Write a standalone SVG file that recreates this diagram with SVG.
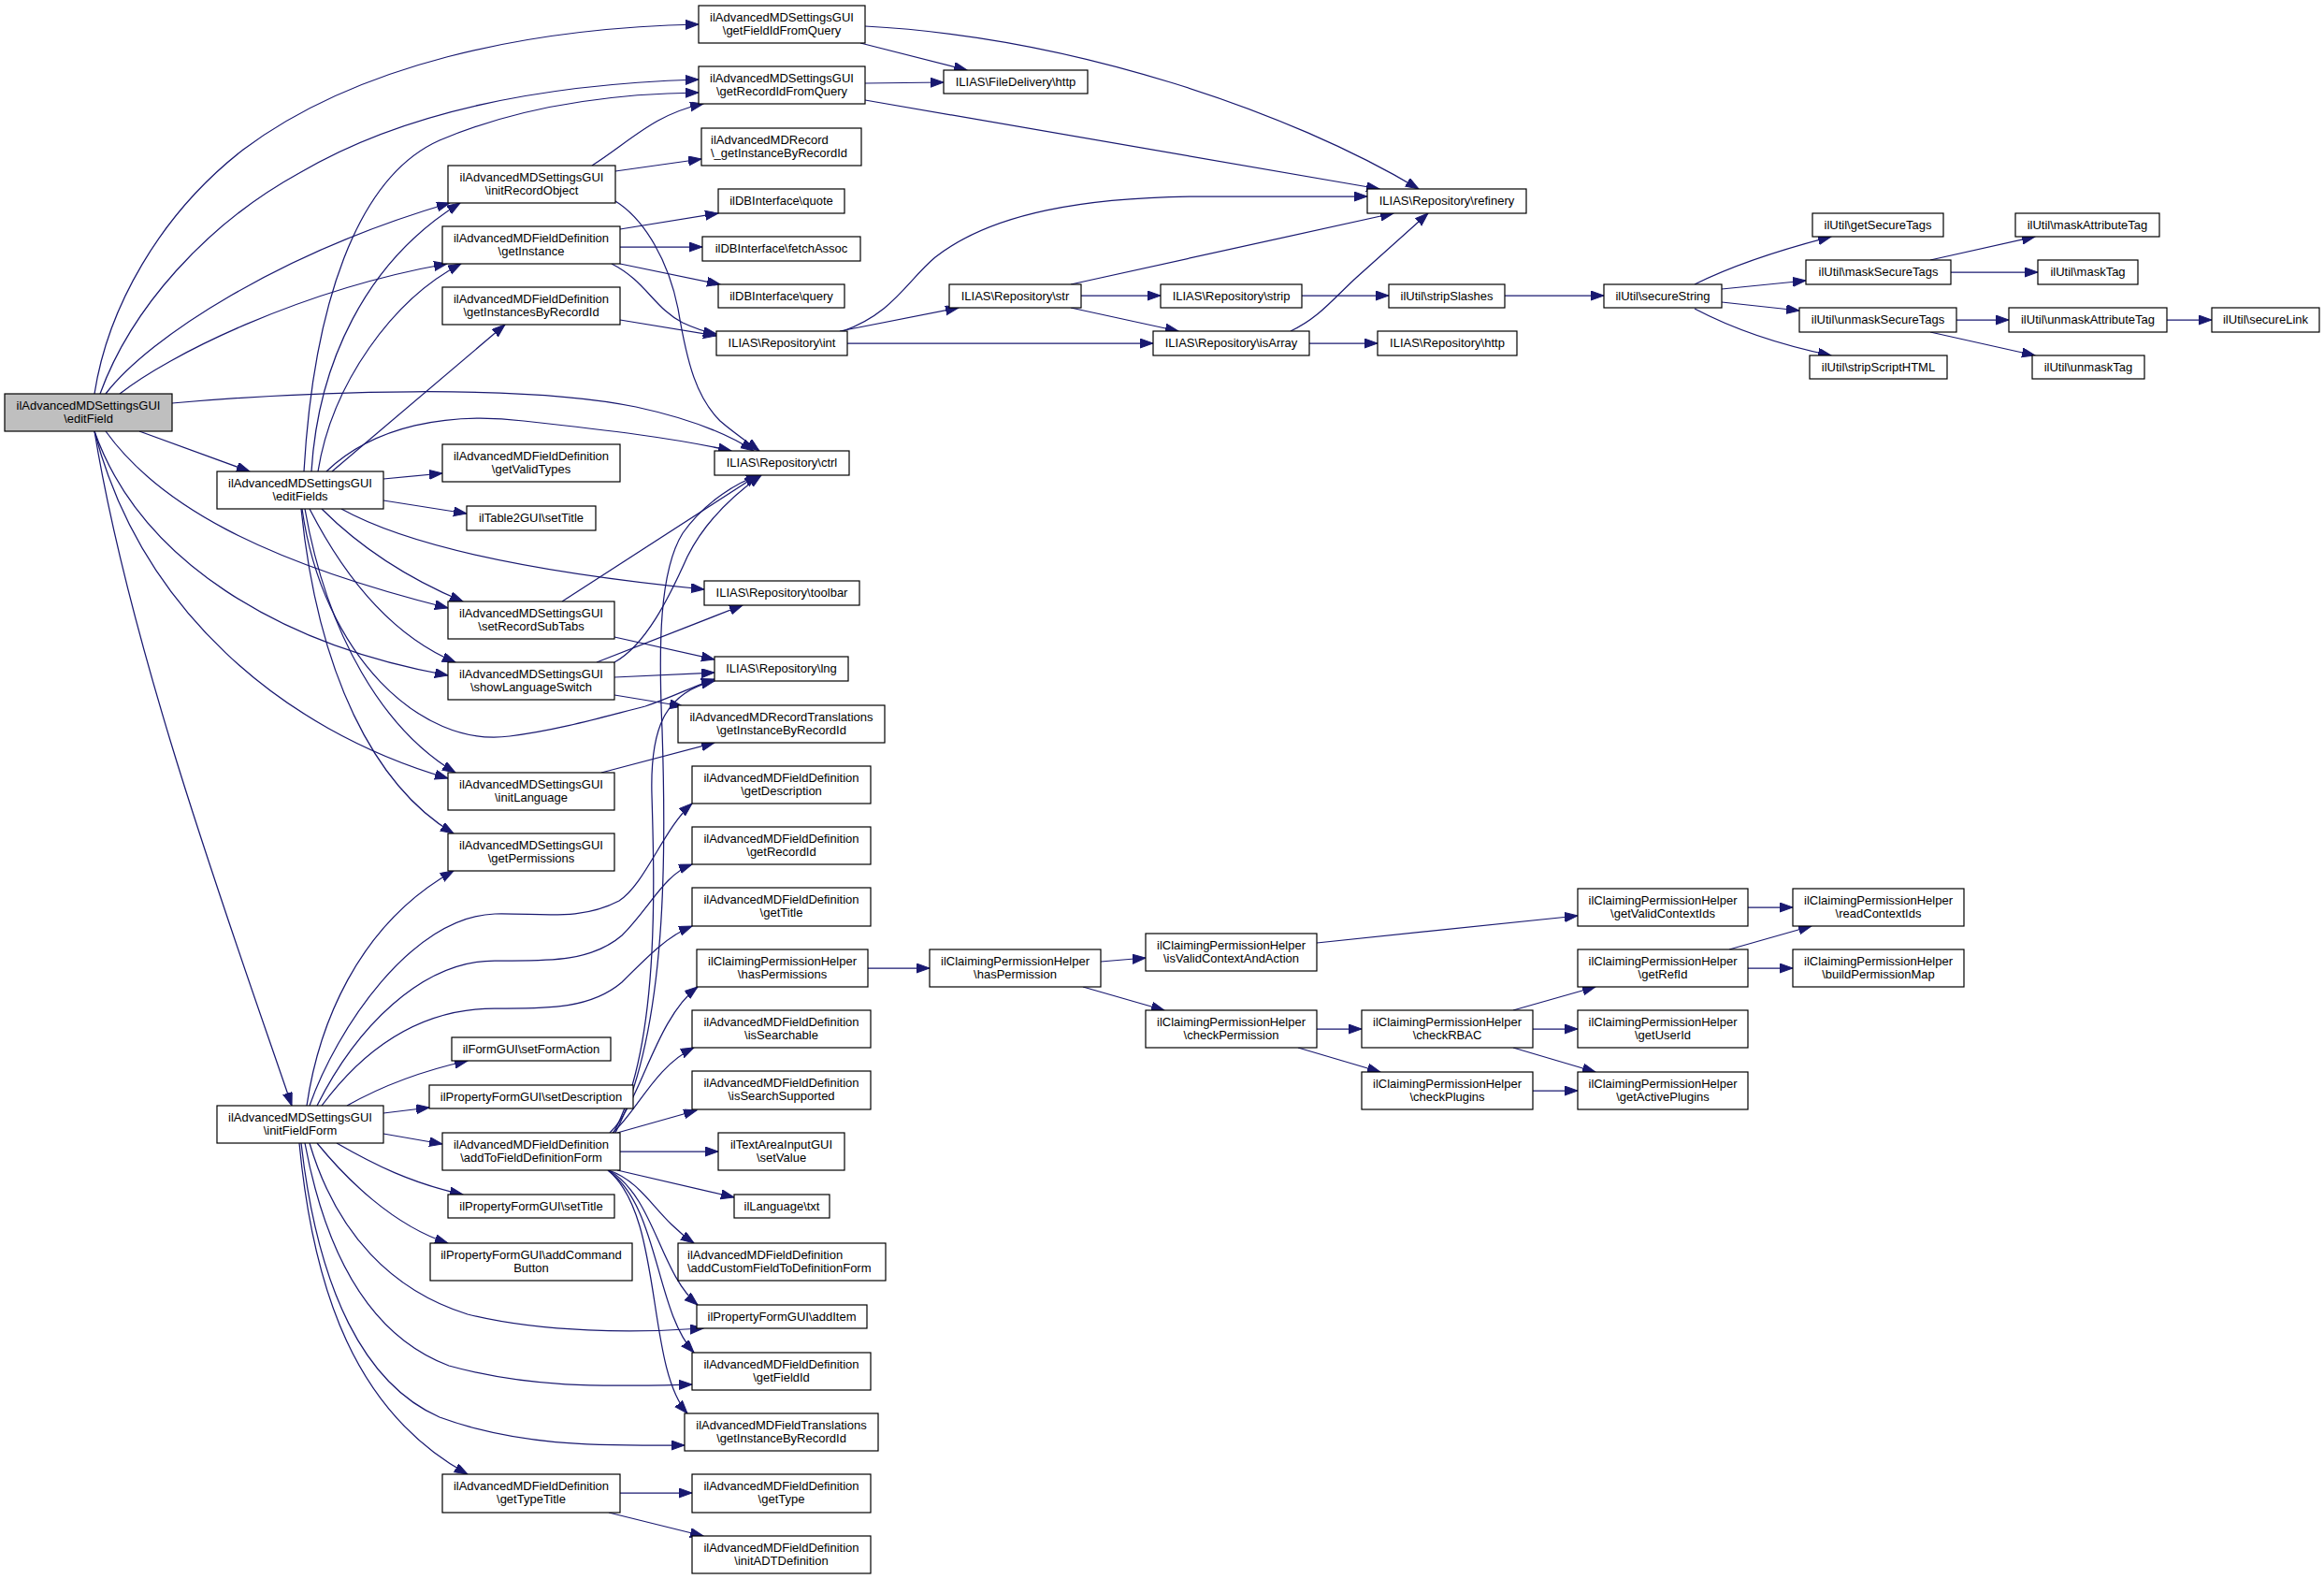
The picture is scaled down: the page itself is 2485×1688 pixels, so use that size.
<svg xmlns="http://www.w3.org/2000/svg" width="2485" height="1688" viewBox="0 0 2485 1688">
<style>
.node rect{fill:#ffffff;stroke:#000000;stroke-width:1.2}
.root rect{fill:#bfbfbf}
.node text{font-family:"Liberation Sans",Arial,Helvetica,sans-serif;font-size:13px;fill:#000000;text-anchor:middle}
.node text.l{text-anchor:start}
.edges path{fill:none;stroke:#191970;stroke-width:1.25;marker-end:url(#ah)}
</style>
<defs>
<marker id="ah" markerUnits="userSpaceOnUse" markerWidth="16" markerHeight="12" refX="14" refY="5" orient="auto">
<path d="M0,0 L14,5 L0,10 z" fill="#191970" stroke="#191970" stroke-width="1"/>
</marker>
</defs>
<rect width="2485" height="1688" fill="#ffffff"/>
<g id="edges" class="edges">
<path d="M101,421 C115,330 170,230 260,160 C380,70 560,30 747,26"/>
<path d="M107,421 C140,330 220,240 320,185 C430,120 580,90 747,85"/>
<path d="M113,421 C160,360 300,270 481,217"/>
<path d="M128,421 C180,380 320,310 478,282"/>
<path d="M184,431 C330,418 560,410 680,435 C740,448 780,465 806,482"/>
<path d="M149,461 L267,504"/>
<path d="M113,461 C170,540 280,600 479,650"/>
<path d="M101,461 C150,600 300,690 479,722"/>
<path d="M101,461 C150,650 300,780 479,832"/>
<path d="M101,461 C140,700 250,1000 312,1182"/>
<path d="M325,504 C335,330 380,190 470,150 C560,112 660,100 747,99"/>
<path d="M333,504 C340,390 390,280 492,217"/>
<path d="M340,504 C355,410 420,320 493,282"/>
<path d="M355,504 L540,347"/>
<path d="M349,504 C400,455 480,440 560,450 C650,460 720,468 782,482"/>
<path d="M410,512 L473,506"/>
<path d="M410,535 L499,549"/>
<path d="M365,544 C430,580 550,610 753,630"/>
<path d="M344,544 C390,590 440,620 495,643"/>
<path d="M331,544 C370,620 420,680 487,708"/>
<path d="M326,544 C350,680 410,780 487,826"/>
<path d="M322,544 C340,720 400,840 485,891"/>
<path d="M323,544 C345,700 450,800 545,787 C600,780 650,765 690,755 C720,745 745,732 764,726"/>
<path d="M601,643 L810,508"/>
<path d="M657,681 L764,705"/>
<path d="M638,708 L794,647"/>
<path d="M657,708 C690,690 715,640 735,595 C755,555 790,525 814,508"/>
<path d="M657,724 L764,719"/>
<path d="M657,743 L730,755"/>
<path d="M643,826 L764,794"/>
<path d="M633,177 C675,150 700,122 752,111"/>
<path d="M658,183 L750,170"/>
<path d="M658,215 C690,235 715,280 725,330 C735,390 745,425 770,450 C785,463 800,473 812,482"/>
<path d="M663,245 L768,228"/>
<path d="M663,264 L751,264"/>
<path d="M663,282 L770,304"/>
<path d="M654,282 C690,300 700,330 730,345 C745,352 755,355 766,357"/>
<path d="M663,342 L766,359"/>
<path d="M920,46 L1034,75"/>
<path d="M925,28 C1150,40 1380,120 1517,202"/>
<path d="M925,89 L1009,88"/>
<path d="M925,107 L1475,202"/>
<path d="M898,354 L1025,329"/>
<path d="M901,354 C955,335 970,300 1000,275 C1060,228 1160,210 1290,210 C1360,210 1420,210 1462,210"/>
<path d="M906,367 L1233,367"/>
<path d="M1145,304 L1490,228"/>
<path d="M1156,316 L1241,316"/>
<path d="M1145,329 L1260,354"/>
<path d="M1380,354 C1410,340 1425,320 1450,297 L1527,228"/>
<path d="M1400,367 L1473,367"/>
<path d="M1392,316 L1485,316"/>
<path d="M1609,316 L1715,316"/>
<path d="M1812,304 C1850,285 1900,268 1958,253"/>
<path d="M1841,309 L1931,300"/>
<path d="M1841,323 L1924,332"/>
<path d="M1812,330 C1850,350 1900,368 1958,380"/>
<path d="M2064,278 L2176,253"/>
<path d="M2086,291 L2179,291"/>
<path d="M2092,342 L2148,342"/>
<path d="M2064,355 L2176,380"/>
<path d="M2317,342 L2365,342"/>
<path d="M928,1035 L994,1035"/>
<path d="M1177,1028 L1225,1024"/>
<path d="M1158,1055 L1245,1080"/>
<path d="M1408,1008 L1687,979"/>
<path d="M1408,1100 L1456,1100"/>
<path d="M1388,1120 L1476,1146"/>
<path d="M1618,1080 L1706,1055"/>
<path d="M1639,1100 L1687,1100"/>
<path d="M1618,1120 L1706,1146"/>
<path d="M1639,1166 L1687,1166"/>
<path d="M1869,970 L1917,970"/>
<path d="M1849,1015 L1937,990"/>
<path d="M1869,1035 L1917,1035"/>
<path d="M663,1596 L740,1596"/>
<path d="M651,1617 L752,1642"/>
<path d="M328,1182 C340,1100 380,990 485,931"/>
<path d="M331,1182 C360,1100 440,980 529,977 C580,976 620,985 662,963 C690,945 710,885 740,859"/>
<path d="M339,1182 C380,1100 450,1027 529,1027 C580,1027 630,1030 665,1000 C695,970 710,935 740,924"/>
<path d="M344,1182 C390,1120 450,1078 529,1078 C580,1078 630,1080 665,1050 C695,1020 715,1000 740,990"/>
<path d="M371,1182 C410,1160 450,1145 500,1134"/>
<path d="M410,1190 L459,1184"/>
<path d="M410,1212 L473,1223"/>
<path d="M360,1222 C400,1245 440,1265 495,1277"/>
<path d="M339,1222 C370,1260 420,1310 479,1329"/>
<path d="M331,1222 C360,1320 420,1380 500,1405 C580,1425 680,1425 752,1420"/>
<path d="M326,1222 C350,1350 400,1430 480,1460 C570,1485 650,1482 740,1480"/>
<path d="M322,1222 C340,1380 390,1480 470,1515 C560,1548 650,1545 732,1545"/>
<path d="M320,1222 C335,1380 380,1510 500,1576"/>
<path d="M660,1211 L745,1187"/>
<path d="M655,1211 C680,1190 700,1140 742,1120"/>
<path d="M652,1211 C685,1180 700,1090 746,1055"/>
<path d="M663,1231 L768,1231"/>
<path d="M660,1251 L785,1280"/>
<path d="M651,1251 C690,1265 700,1300 742,1329"/>
<path d="M651,1251 C700,1280 705,1360 746,1395"/>
<path d="M650,1251 C705,1290 700,1400 742,1446"/>
<path d="M650,1251 C710,1300 690,1460 735,1511"/>
<path d="M656,1211 C705,1120 700,950 697,850 C695,780 710,740 764,728"/>
<path d="M658,1211 C715,1100 712,900 708,780 C704,690 705,610 730,570 C755,535 790,515 812,508"/>
</g>
<g id="n_editField" class="node root"><rect x="5" y="421" width="179" height="40"/><text x="94.5" y="438">ilAdvancedMDSettingsGUI</text><text x="94.5" y="451.5">\editField</text></g>
<g id="n_getFieldIdFromQuery" class="node"><rect x="747" y="6" width="178" height="40"/><text x="836" y="23">ilAdvancedMDSettingsGUI</text><text x="836" y="36.5">\getFieldIdFromQuery</text></g>
<g id="n_getRecordIdFromQuery" class="node"><rect x="747" y="71" width="178" height="40"/><text x="836" y="88">ilAdvancedMDSettingsGUI</text><text x="836" y="101.5">\getRecordIdFromQuery</text></g>
<g id="n_fdhttp" class="node"><rect x="1009" y="75" width="154" height="25"/><text x="1086" y="92">ILIAS\FileDelivery\http</text></g>
<g id="n_recGetInstance" class="node"><rect x="750" y="137" width="171" height="40"/><text class="l" x="760" y="154">ilAdvancedMDRecord</text><text class="l" x="760" y="167.5">\_getInstanceByRecordId</text></g>
<g id="n_quote" class="node"><rect x="768" y="202" width="135" height="26"/><text x="835.5" y="219">ilDBInterface\quote</text></g>
<g id="n_fetchAssoc" class="node"><rect x="751" y="253" width="169" height="26"/><text x="835.5" y="270">ilDBInterface\fetchAssoc</text></g>
<g id="n_query" class="node"><rect x="768" y="304" width="135" height="25"/><text x="835.5" y="321">ilDBInterface\query</text></g>
<g id="n_int" class="node"><rect x="766" y="354" width="140" height="26"/><text x="836" y="371">ILIAS\Repository\int</text></g>
<g id="n_str" class="node"><rect x="1015" y="304" width="141" height="25"/><text x="1085.5" y="321">ILIAS\Repository\str</text></g>
<g id="n_strip" class="node"><rect x="1241" y="304" width="151" height="25"/><text x="1316.5" y="321">ILIAS\Repository\strip</text></g>
<g id="n_isArray" class="node"><rect x="1233" y="354" width="167" height="26"/><text x="1316.5" y="371">ILIAS\Repository\isArray</text></g>
<g id="n_refinery" class="node"><rect x="1462" y="202" width="170" height="26"/><text x="1547" y="219">ILIAS\Repository\refinery</text></g>
<g id="n_stripSlashes" class="node"><rect x="1485" y="304" width="124" height="25"/><text x="1547" y="321">ilUtil\stripSlashes</text></g>
<g id="n_rephttp" class="node"><rect x="1473" y="354" width="149" height="26"/><text x="1547.5" y="371">ILIAS\Repository\http</text></g>
<g id="n_secureString" class="node"><rect x="1715" y="304" width="126" height="25"/><text x="1778" y="321">ilUtil\secureString</text></g>
<g id="n_getSecureTags" class="node"><rect x="1938" y="228" width="140" height="25"/><text x="2008" y="245">ilUtil\getSecureTags</text></g>
<g id="n_maskSecureTags" class="node"><rect x="1931" y="278" width="155" height="26"/><text x="2008.5" y="295">ilUtil\maskSecureTags</text></g>
<g id="n_unmaskSecureTags" class="node"><rect x="1924" y="329" width="168" height="26"/><text x="2008" y="346">ilUtil\unmaskSecureTags</text></g>
<g id="n_stripScriptHTML" class="node"><rect x="1935" y="380" width="147" height="25"/><text x="2008.5" y="397">ilUtil\stripScriptHTML</text></g>
<g id="n_maskAttributeTag" class="node"><rect x="2155" y="228" width="154" height="25"/><text x="2232" y="245">ilUtil\maskAttributeTag</text></g>
<g id="n_maskTag" class="node"><rect x="2179" y="278" width="107" height="26"/><text x="2232.5" y="295">ilUtil\maskTag</text></g>
<g id="n_unmaskAttributeTag" class="node"><rect x="2148" y="329" width="169" height="26"/><text x="2232.5" y="346">ilUtil\unmaskAttributeTag</text></g>
<g id="n_secureLink" class="node"><rect x="2365" y="329" width="115" height="26"/><text x="2422.5" y="346">ilUtil\secureLink</text></g>
<g id="n_unmaskTag" class="node"><rect x="2173" y="380" width="120" height="25"/><text x="2233" y="397">ilUtil\unmaskTag</text></g>
<g id="n_initRecordObject" class="node"><rect x="479" y="177" width="179" height="40"/><text x="568.5" y="194">ilAdvancedMDSettingsGUI</text><text x="568.5" y="207.5">\initRecordObject</text></g>
<g id="n_getInstance" class="node"><rect x="473" y="242" width="190" height="40"/><text x="568" y="259">ilAdvancedMDFieldDefinition</text><text x="568" y="272.5">\getInstance</text></g>
<g id="n_getInstancesByRecordId" class="node"><rect x="473" y="307" width="190" height="40"/><text x="568" y="324">ilAdvancedMDFieldDefinition</text><text x="568" y="337.5">\getInstancesByRecordId</text></g>
<g id="n_editFields" class="node"><rect x="232" y="504" width="178" height="40"/><text x="321" y="521">ilAdvancedMDSettingsGUI</text><text x="321" y="534.5">\editFields</text></g>
<g id="n_getValidTypes" class="node"><rect x="473" y="475" width="190" height="40"/><text x="568" y="492">ilAdvancedMDFieldDefinition</text><text x="568" y="505.5">\getValidTypes</text></g>
<g id="n_t2setTitle" class="node"><rect x="499" y="541" width="138" height="26"/><text x="568" y="558">ilTable2GUI\setTitle</text></g>
<g id="n_setRecordSubTabs" class="node"><rect x="479" y="643" width="178" height="40"/><text x="568" y="660">ilAdvancedMDSettingsGUI</text><text x="568" y="673.5">\setRecordSubTabs</text></g>
<g id="n_showLanguageSwitch" class="node"><rect x="479" y="708" width="178" height="40"/><text x="568" y="725">ilAdvancedMDSettingsGUI</text><text x="568" y="738.5">\showLanguageSwitch</text></g>
<g id="n_initLanguage" class="node"><rect x="479" y="826" width="178" height="40"/><text x="568" y="843">ilAdvancedMDSettingsGUI</text><text x="568" y="856.5">\initLanguage</text></g>
<g id="n_getPermissions" class="node"><rect x="479" y="891" width="178" height="40"/><text x="568" y="908">ilAdvancedMDSettingsGUI</text><text x="568" y="921.5">\getPermissions</text></g>
<g id="n_ctrl" class="node"><rect x="764" y="482" width="144" height="26"/><text x="836" y="499">ILIAS\Repository\ctrl</text></g>
<g id="n_toolbar" class="node"><rect x="753" y="621" width="166" height="26"/><text x="836" y="638">ILIAS\Repository\toolbar</text></g>
<g id="n_lng" class="node"><rect x="764" y="702" width="143" height="26"/><text x="835.5" y="719">ILIAS\Repository\lng</text></g>
<g id="n_recTrans" class="node"><rect x="725" y="754" width="221" height="40"/><text x="835.5" y="771">ilAdvancedMDRecordTranslations</text><text x="835.5" y="784.5">\getInstanceByRecordId</text></g>
<g id="n_getDescription" class="node"><rect x="740" y="819" width="191" height="40"/><text x="835.5" y="836">ilAdvancedMDFieldDefinition</text><text x="835.5" y="849.5">\getDescription</text></g>
<g id="n_getRecordId" class="node"><rect x="740" y="884" width="191" height="40"/><text x="835.5" y="901">ilAdvancedMDFieldDefinition</text><text x="835.5" y="914.5">\getRecordId</text></g>
<g id="n_getTitle" class="node"><rect x="740" y="949" width="191" height="41"/><text x="835.5" y="966">ilAdvancedMDFieldDefinition</text><text x="835.5" y="979.5">\getTitle</text></g>
<g id="n_hasPermissions" class="node"><rect x="745" y="1015" width="183" height="40"/><text x="836.5" y="1032">ilClaimingPermissionHelper</text><text x="836.5" y="1045.5">\hasPermissions</text></g>
<g id="n_isSearchable" class="node"><rect x="740" y="1080" width="191" height="40"/><text x="835.5" y="1097">ilAdvancedMDFieldDefinition</text><text x="835.5" y="1110.5">\isSearchable</text></g>
<g id="n_isSearchSupported" class="node"><rect x="740" y="1145" width="191" height="41"/><text x="835.5" y="1162">ilAdvancedMDFieldDefinition</text><text x="835.5" y="1175.5">\isSearchSupported</text></g>
<g id="n_setValue" class="node"><rect x="768" y="1211" width="135" height="40"/><text x="835.5" y="1228">ilTextAreaInputGUI</text><text x="835.5" y="1241.5">\setValue</text></g>
<g id="n_txt" class="node"><rect x="785" y="1277" width="102" height="25"/><text x="836" y="1294">ilLanguage\txt</text></g>
<g id="n_addCustom" class="node"><rect x="725" y="1329" width="222" height="40"/><text class="l" x="735" y="1346">ilAdvancedMDFieldDefinition</text><text class="l" x="735" y="1359.5">\addCustomFieldToDefinitionForm</text></g>
<g id="n_addItem" class="node"><rect x="745" y="1395" width="182" height="25"/><text x="836" y="1412">ilPropertyFormGUI\addItem</text></g>
<g id="n_getFieldId" class="node"><rect x="740" y="1446" width="191" height="40"/><text x="835.5" y="1463">ilAdvancedMDFieldDefinition</text><text x="835.5" y="1476.5">\getFieldId</text></g>
<g id="n_fieldTrans" class="node"><rect x="732" y="1511" width="207" height="40"/><text x="835.5" y="1528">ilAdvancedMDFieldTranslations</text><text x="835.5" y="1541.5">\getInstanceByRecordId</text></g>
<g id="n_getType" class="node"><rect x="740" y="1576" width="191" height="41"/><text x="835.5" y="1593">ilAdvancedMDFieldDefinition</text><text x="835.5" y="1606.5">\getType</text></g>
<g id="n_initADT" class="node"><rect x="740" y="1642" width="191" height="40"/><text x="835.5" y="1659">ilAdvancedMDFieldDefinition</text><text x="835.5" y="1672.5">\initADTDefinition</text></g>
<g id="n_hasPermission" class="node"><rect x="994" y="1015" width="183" height="40"/><text x="1085.5" y="1032">ilClaimingPermissionHelper</text><text x="1085.5" y="1045.5">\hasPermission</text></g>
<g id="n_isValidContextAndAction" class="node"><rect x="1225" y="998" width="183" height="40"/><text x="1316.5" y="1015">ilClaimingPermissionHelper</text><text x="1316.5" y="1028.5">\isValidContextAndAction</text></g>
<g id="n_checkPermission" class="node"><rect x="1225" y="1080" width="183" height="40"/><text x="1316.5" y="1097">ilClaimingPermissionHelper</text><text x="1316.5" y="1110.5">\checkPermission</text></g>
<g id="n_getValidContextIds" class="node"><rect x="1687" y="950" width="182" height="40"/><text x="1778" y="967">ilClaimingPermissionHelper</text><text x="1778" y="980.5">\getValidContextIds</text></g>
<g id="n_readContextIds" class="node"><rect x="1917" y="950" width="183" height="40"/><text x="2008.5" y="967">ilClaimingPermissionHelper</text><text x="2008.5" y="980.5">\readContextIds</text></g>
<g id="n_getRefId" class="node"><rect x="1687" y="1015" width="182" height="40"/><text x="1778" y="1032">ilClaimingPermissionHelper</text><text x="1778" y="1045.5">\getRefId</text></g>
<g id="n_buildPermissionMap" class="node"><rect x="1917" y="1015" width="183" height="40"/><text x="2008.5" y="1032">ilClaimingPermissionHelper</text><text x="2008.5" y="1045.5">\buildPermissionMap</text></g>
<g id="n_checkRBAC" class="node"><rect x="1456" y="1080" width="183" height="40"/><text x="1547.5" y="1097">ilClaimingPermissionHelper</text><text x="1547.5" y="1110.5">\checkRBAC</text></g>
<g id="n_getUserId" class="node"><rect x="1687" y="1080" width="182" height="40"/><text x="1778" y="1097">ilClaimingPermissionHelper</text><text x="1778" y="1110.5">\getUserId</text></g>
<g id="n_checkPlugins" class="node"><rect x="1456" y="1146" width="183" height="40"/><text x="1547.5" y="1163">ilClaimingPermissionHelper</text><text x="1547.5" y="1176.5">\checkPlugins</text></g>
<g id="n_getActivePlugins" class="node"><rect x="1687" y="1146" width="182" height="40"/><text x="1778" y="1163">ilClaimingPermissionHelper</text><text x="1778" y="1176.5">\getActivePlugins</text></g>
<g id="n_initFieldForm" class="node"><rect x="232" y="1182" width="178" height="40"/><text x="321" y="1199">ilAdvancedMDSettingsGUI</text><text x="321" y="1212.5">\initFieldForm</text></g>
<g id="n_setFormAction" class="node"><rect x="483" y="1109" width="170" height="25"/><text x="568" y="1126">ilFormGUI\setFormAction</text></g>
<g id="n_setDescription" class="node"><rect x="459" y="1160" width="218" height="25"/><text x="568" y="1177">ilPropertyFormGUI\setDescription</text></g>
<g id="n_addToFieldDefinitionForm" class="node"><rect x="473" y="1211" width="190" height="40"/><text x="568" y="1228">ilAdvancedMDFieldDefinition</text><text x="568" y="1241.5">\addToFieldDefinitionForm</text></g>
<g id="n_pfSetTitle" class="node"><rect x="479" y="1277" width="178" height="25"/><text x="568" y="1294">ilPropertyFormGUI\setTitle</text></g>
<g id="n_addCommandButton" class="node"><rect x="460" y="1329" width="216" height="40"/><text x="568" y="1346">ilPropertyFormGUI\addCommand</text><text x="568" y="1359.5">Button</text></g>
<g id="n_getTypeTitle" class="node"><rect x="473" y="1576" width="190" height="41"/><text x="568" y="1593">ilAdvancedMDFieldDefinition</text><text x="568" y="1606.5">\getTypeTitle</text></g>
</svg>
